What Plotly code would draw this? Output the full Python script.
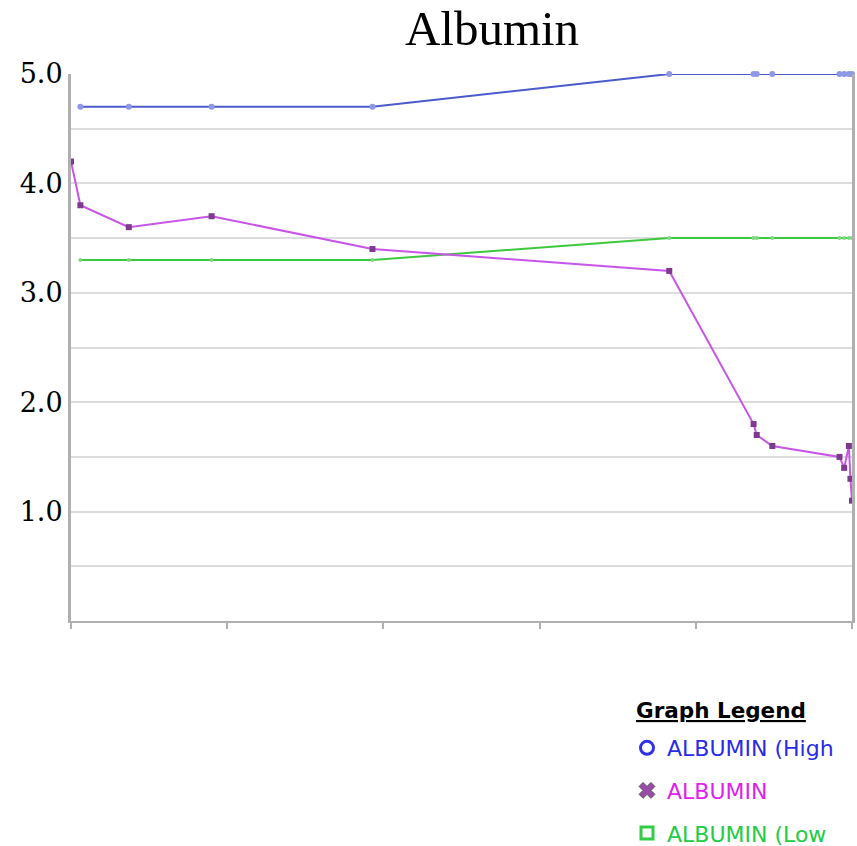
import plotly.graph_objects as go

# x positions on an unlabelled time-like axis (0..5)
x_ref = [0.06, 0.37, 0.90, 1.93, 3.83, 4.37, 4.39, 4.49, 4.92, 4.95, 4.98, 5.0]
high_vals = [4.7, 4.7, 4.7, 4.7, 5.0, 5.0, 5.0, 5.0, 5.0, 5.0, 5.0, 5.0]
low_vals = [3.3, 3.3, 3.3, 3.3, 3.5, 3.5, 3.5, 3.5, 3.5, 3.5, 3.5, 3.5]

x_alb = [0.0, 0.06, 0.37, 0.90, 1.93, 3.83, 4.37, 4.39, 4.49, 4.92, 4.95, 4.98, 4.99, 5.0]
alb_vals = [4.2, 3.8, 3.6, 3.7, 3.4, 3.2, 1.8, 1.7, 1.6, 1.5, 1.4, 1.6, 1.3, 1.1]

y_tickvals = [1, 2, 3, 4, 5]
y_ticktext = ["1.0", "2.0", "3.0", "4.0", "5.0"]
x_tickvals = [0, 1, 2, 3, 4, 5]

names = ["ALBUMIN (High", "ALBUMIN", "ALBUMIN (Low"]
BLUE, BLUE_M = "#4b5bcc", "#8f98e6"
PURP, PURP_M = "#c855e8", "#7d3a8e"
GREEN, GREEN_M = "#3ec83e", "#7fd87f"
LEG_COLORS = ["#2a2ae8", "#dd22ee", "#22cc44"]

fig = go.Figure()
fig.add_trace(go.Scatter(x=x_ref, y=high_vals, mode="lines+markers",
                         line=dict(color=BLUE, width=2),
                         marker=dict(symbol="circle", size=6, color=BLUE_M),
                         showlegend=False, cliponaxis=False))
fig.add_trace(go.Scatter(x=x_ref, y=low_vals, mode="lines+markers",
                         line=dict(color=GREEN, width=2),
                         marker=dict(symbol="circle", size=4, color=GREEN_M),
                         showlegend=False, cliponaxis=False))
fig.add_trace(go.Scatter(x=x_alb, y=alb_vals, mode="lines+markers",
                         line=dict(color=PURP, width=2),
                         marker=dict(symbol="square", size=6, color=PURP_M),
                         showlegend=False, cliponaxis=False))

def label(i):
    return f"<span style='color:{LEG_COLORS[i]}'>{names[i]}</span>"

# legend-only entries (marker symbols like the reference legend)
fig.add_trace(go.Scatter(x=[None], y=[None], mode="markers", name=label(0),
                         marker=dict(symbol="circle-open", size=13, color="#3030e8",
                                     line=dict(width=3)), legendgroup="a"))
fig.add_trace(go.Scatter(x=[None], y=[None], mode="markers", name=label(1),
                         marker=dict(symbol="x", size=14, color="#9a4aaa",
                                     line=dict(width=1, color="#555555")), legendgroup="b"))
fig.add_trace(go.Scatter(x=[None], y=[None], mode="markers", name=label(2),
                         marker=dict(symbol="square-open", size=12, color="#33cc44",
                                     line=dict(width=3)), legendgroup="c"))

fig.update_layout(
    width=857, height=846,
    margin=dict(l=71, r=5, t=74, b=225, autoexpand=False),
    paper_bgcolor="white", plot_bgcolor="white",
    title=dict(text="Albumin", font=dict(family="Liberation Serif", size=49, color="black"),
               x=492 / 857, xanchor="center", xref="container",
               y=1 - 11 / 846, yanchor="top", yref="container"),
    xaxis=dict(range=[0, 5], tickvals=x_tickvals, showticklabels=False, automargin=False,
               showgrid=False, zeroline=False, showline=True, linecolor="#b0b0b0",
               linewidth=2, ticks="outside", ticklen=6, tickcolor="#b0b0b0", tickwidth=2),
    yaxis=dict(range=[0, 5], tickvals=y_tickvals, ticktext=y_ticktext, automargin=False,
               tickfont=dict(family="DejaVu Serif", size=27, color="black"),
               showgrid=True, gridcolor="#dcdcdc", gridwidth=1.5,
               zeroline=False, showline=True, linecolor="#b0b0b0", linewidth=3,
               mirror=True, ticks="", ticklabelstandoff=0,
               minor=dict(dtick=0.5, showgrid=True, gridcolor="#dcdcdc", gridwidth=1.5,
                          ticks="")),
    legend=dict(xref="container", yref="container",
                x=627 / 857, xanchor="left", y=1 - 727 / 846, yanchor="top",
                font=dict(family="DejaVu Sans", size=22),
                tracegroupgap=11, bgcolor="rgba(0,0,0,0)"),
    annotations=[dict(text="<b><u>Graph Legend</u></b>", xref="paper", yref="paper",
                      x=(634 - 71) / 781, y=(621 - 710) / 547, xanchor="left",
                      yanchor="middle", showarrow=False,
                      font=dict(family="DejaVu Sans", size=21.5, color="black"))],
)

fig.write_html("out.html", post_script="document.body.style.margin='0';",
               config={"displayModeBar": False})
